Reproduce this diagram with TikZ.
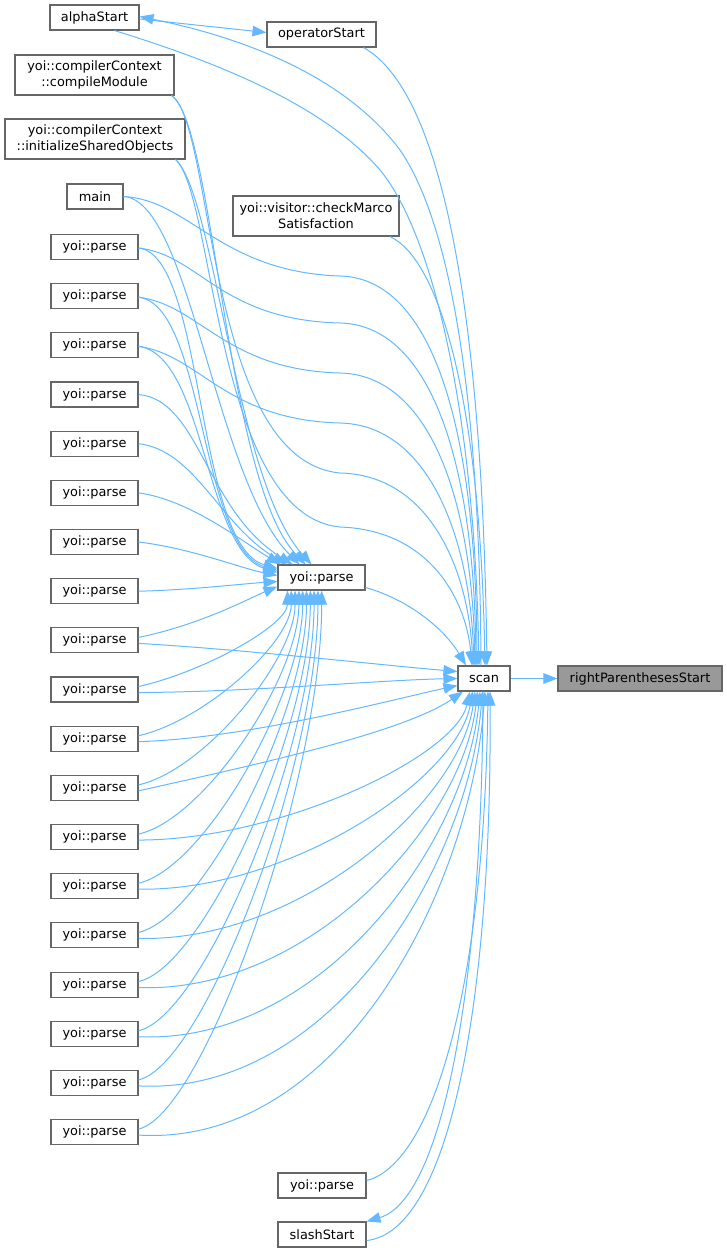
\documentclass[tikz,border=0pt]{standalone}
\usepackage{fontspec}
\setmainfont{DejaVu Sans}
\usetikzlibrary{arrows.meta}
\definecolor{edgeblue}{HTML}{63B8FF}
\definecolor{boxgrey}{HTML}{666666}
\definecolor{focusgrey}{HTML}{999999}
\begin{document}
\begin{tikzpicture}[x=1pt,y=-1pt,
  box/.style={draw=boxgrey, line width=1.1pt, fill=white, inner sep=0pt, minimum height=25pt, align=center, font=\fontsize{12.9}{16}\selectfont},
  tall/.style={box, minimum height=40pt},
  edge/.style={draw=edgeblue, line width=1pt, -{Triangle[length=14pt,width=10.5pt]}}]
\useasboundingbox (0,0) rectangle (727,1253);
% nodes
\node[box, minimum width=89pt] (alpha) at (94.5,17.5) {alphaStart};
\node[box, minimum width=109pt] (oper) at (321.5,34.5) {operatorStart};
\node[tall, minimum width=159pt] (cm) at (94.5,75) {yoi::compilerContext\\::compileModule};
\node[tall, minimum width=180pt] (ishared) at (95,139) {yoi::compilerContext\\::initializeSharedObjects};
\node[box, minimum width=56pt] (mainf) at (95,196.5) {main};
\node[tall, minimum width=166pt] (check) at (316,216) {yoi::visitor::checkMarco\\Satisfaction};
\foreach \i in {1,...,19}{
  \pgfmathsetmacro\yy{247+49.17*(\i-1)}
  \node[box, minimum width=87pt] (p\i) at (94.5,\yy) {yoi::parse};
}
\node[box, minimum width=87pt] (mid) at (321.5,577.5) {yoi::parse};
\node[box, minimum width=52pt] (scan) at (484,678.5) {scan};
\node[box, minimum width=164pt, fill=focusgrey] (rps) at (640,678.5) {rightParenthesesStart};
\node[box, minimum width=88pt] (pb) at (322,1185.5) {yoi::parse};
\node[box, minimum width=88pt] (slash) at (322,1234.5) {slashStart};
% top edges
\draw[edge] ([yshift=-1.5pt]alpha.east) -- ([yshift=2pt]oper.west);
\draw[edge] ([xshift=-3pt]scan.north) .. controls (480,420) and (455,230) .. (400,150) .. controls (340,70) and (230,35) .. ([yshift=1pt]alpha.east);
\draw[edge] ([xshift=20pt]alpha.south) .. controls (200,57) and (320,100) .. (380,170) .. controls (430,230) and (474,400) .. ([xshift=-5pt]scan.north);
\draw[edge] ([xshift=42pt]oper.south) .. controls (440,90) and (482,300) .. ([xshift=3pt]scan.north);
\draw[edge] ([xshift=74pt]check.south) .. controls (440,260) and (480,400) .. ([xshift=1pt]scan.north);
% callers of scan from the upper left
\draw[edge] (mainf.east) .. controls (190,200) and (220,272) .. (340,276) .. controls (430,278) and (476,420) .. ([xshift=-7pt]scan.north);
\draw[edge] ([yshift=-1pt]p1.east) .. controls (200,255) and (220,320) .. (340,323) .. controls (430,325) and (474,460) .. ([xshift=-8pt]scan.north);
\draw[edge] ([yshift=-1pt]p2.east) .. controls (200,305) and (225,370) .. (340,373) .. controls (430,375) and (472,500) .. ([xshift=-9pt]scan.north);
\draw[edge] ([yshift=-1pt]p3.east) .. controls (200,355) and (225,420) .. (340,423) .. controls (430,425) and (470,540) .. ([xshift=-10pt]scan.north);
\draw[edge] ([xshift=-3pt]cm.south east) .. controls (215,125) and (205,460) .. (340,473) .. controls (430,475) and (468,570) .. ([xshift=-11pt]scan.north);
\draw[edge] ([xshift=-10pt]ishared.south east) .. controls (215,195) and (215,515) .. (340,527) .. controls (430,530) and (466,600) .. ([xshift=-12pt]scan.north);
% callers of the middle yoi::parse from above
\draw[edge] ([xshift=-3pt]cm.south east) .. controls (215,125) and (225,480) .. ([xshift=-16pt]mid.north);
\draw[edge] ([xshift=-10pt]ishared.south east) .. controls (215,195) and (235,480) .. ([xshift=-10pt]mid.north);
\draw[edge] (mainf.east) .. controls (190,200) and (215,480) .. ([xshift=-22pt]mid.north);
\draw[edge] ([yshift=-1pt]p1.east) .. controls (205,255) and (195,545) .. ([yshift=9pt]mid.west);
\draw[edge] ([yshift=-1pt]p2.east) .. controls (205,305) and (200,548) .. ([yshift=7pt]mid.west);
\draw[edge] ([yshift=-1pt]p3.east) .. controls (205,355) and (205,550) .. ([yshift=5pt]mid.west);
\draw[edge] (p4.east) .. controls (200,400) and (205,510) .. ([xshift=-29pt]mid.north);
\draw[edge] (p5.east) .. controls (195,450) and (220,525) .. ([xshift=-35pt]mid.north);
\draw[edge] (p6.east) .. controls (190,500) and (240,540) .. ([xshift=-41pt]mid.north);
\draw[edge] (p7.east) .. controls (190,548) and (240,568) .. ([yshift=2pt]mid.west);
\draw[edge] (p8.east) .. controls (190,590) and (240,584) .. ([yshift=-4pt]mid.west);
\draw[edge] ([yshift=3pt]p9.east) .. controls (200,625) and (250,598) .. ([yshift=-9pt]mid.west);
% callers of the middle yoi::parse from below
\foreach \i in {10,...,19}{
  \pgfmathsetmacro\yy{247+49.17*(\i-1)}
  \pgfmathsetmacro\dx{-34+(\i-10)*3.8}
  \pgfmathsetmacro\cx{321.5+\dx}
  \pgfmathsetmacro\cy{590+(\yy-590)*0.35}
  \pgfmathsetmacro\ay{\yy-18}
  \draw[edge] ([yshift=3pt]p\i.east) .. controls (205,\ay) and (\cx,\cy) .. ([xshift=\dx pt]mid.south);
}
% callers of scan from the left and below
\draw[edge] ([yshift=-3pt]p9.east) .. controls (250,650) and (380,665) .. ([yshift=7pt]scan.west);
\draw[edge] ([yshift=-3pt]p10.east) .. controls (250,692) and (380,680) .. (scan.west);
\draw[edge] ([yshift=-3pt]p11.east) .. controls (250,738) and (390,700) .. ([yshift=-7pt]scan.west);
\draw[edge] ([yshift=-3pt]p12.east) .. controls (230,770) and (400,735) .. ([xshift=-21pt]scan.south);
\foreach \i in {13,...,19}{
  \pgfmathsetmacro\yy{247+49.17*(\i-1)}
  \pgfmathsetmacro\dx{-14+(\i-13)*2.5}
  \pgfmathsetmacro\cx{484+\dx-15}
  \pgfmathsetmacro\cy{691+(\yy-691)*0.45}
  \pgfmathsetmacro\ax{280+(\i-13)*10}
  \pgfmathsetmacro\ay{\yy+3+(\i-13)*2}
  \draw[edge] ([yshift=-3pt]p\i.east) .. controls (\ax,\ay) and (\cx,\cy) .. ([xshift=\dx pt]scan.south);
}
\draw[edge] ([yshift=-10pt]mid.east) .. controls (410,600) and (445,630) .. ([xshift=-18pt]scan.north);
\draw[edge] (scan.east) -- (rps.west);
\draw[edge] ([yshift=5pt]pb.east) .. controls (430,1165) and (484,1000) .. ([xshift=4pt]scan.south);
\draw[edge] ([xshift=-1pt]scan.south) .. controls (482,1000) and (440,1200) .. (slash.north east);
\draw[edge] ([yshift=-6pt]slash.east) .. controls (450,1232) and (492,1000) .. ([xshift=6pt]scan.south);
\end{tikzpicture}
\end{document}
